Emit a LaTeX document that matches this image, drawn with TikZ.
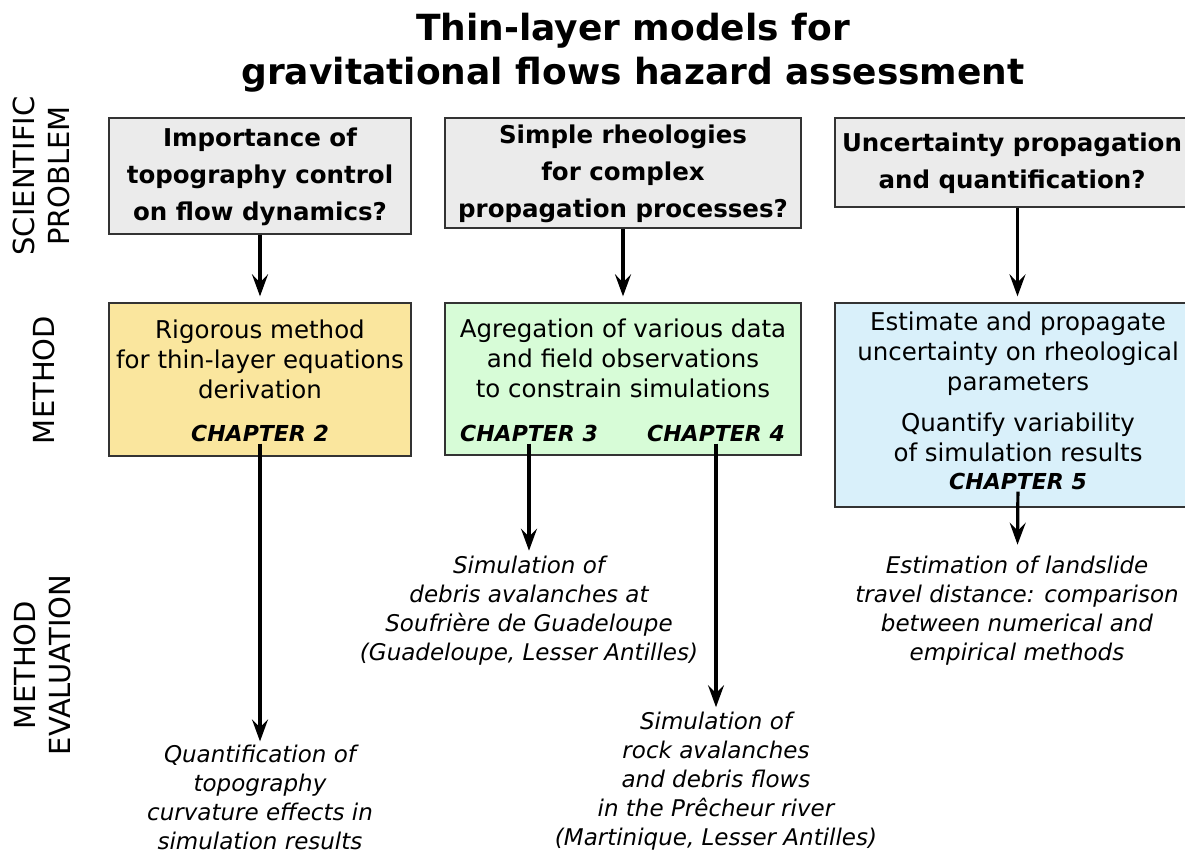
\documentclass[tikz,border=0pt]{standalone}
\usepackage{fontspec}
\setmainfont{DejaVu Sans}
\usetikzlibrary{arrows.meta}
\definecolor{probgray}{RGB}{235,235,235}
\definecolor{methyellow}{RGB}{250,230,158}
\definecolor{methgreen}{RGB}{215,252,215}
\definecolor{methblue}{RGB}{217,240,250}
\tikzset{
  box/.style={draw=black!80, line width=1.3pt, inner sep=0pt},
  probtext/.style={font=\fontsize{24.5}{37}\selectfont\bfseries, align=center, inner sep=0pt},
  bodytext/.style={font=\fontsize{24.5}{30}\selectfont, align=center, inner sep=0pt},
  chaptext/.style={font=\fontsize{22}{24}\selectfont\bfseries\itshape, inner sep=2pt},
  restext/.style={font=\fontsize{23}{29}\selectfont\itshape, align=center, inner sep=0pt},
  sidetext/.style={font=\fontsize{29}{35}\selectfont, align=center, rotate=90, inner sep=0pt},
  flow/.style={-{Stealth[length=22pt,width=16pt,inset=8pt]}, line width=3.2pt},
}
\begin{document}
\begin{tikzpicture}[x=1pt,y=-1pt]
  \useasboundingbox (0,0) rectangle (1185,850);
  \clip (0,0) rectangle (1185,850);
  % title
  \node[font=\fontsize{36}{44}\selectfont\bfseries, align=center] (title) at (633,53) {Thin-layer models for\\gravitational flows hazard assessment};
  % row labels
  \node[sidetext] (rowprob) at (41,176) {SCIENTIFIC\\PROBLEM};
  \node[sidetext] (rowmeth) at (44,380) {METHOD};
  \node[sidetext] (roweval) at (42,665) {METHOD\\EVALUATION};
  % scientific problems
  \node[box, fill=probgray, minimum width=302, minimum height=116] (prob1) at (260,176) {};
  \node[probtext] (prob1txt) at (260,177) {Importance of\\topography control\\on flow dynamics?};
  \node[box, fill=probgray, minimum width=356, minimum height=110] (prob2) at (623,173) {};
  \node[probtext] (prob2txt) at (623,174) {Simple rheologies\\for complex\\propagation processes?};
  \node[box, fill=probgray, minimum width=365, minimum height=89] (prob3) at (1017.5,162.5) {};
  \node[probtext] (prob3txt) at (1012,163.5) {Uncertainty propagation\\and quantification?};
  % methods
  \node[box, fill=methyellow, minimum width=302, minimum height=153] (meth1) at (260,379.5) {};
  \node[bodytext] (meth1txt) at (260,359) {Rigorous method\\for thin-layer equations\\derivation};
  \node[chaptext] (ch2) at (260,433) {CHAPTER 2};
  \node[box, fill=methgreen, minimum width=356, minimum height=152] (meth2) at (623,379) {};
  \node[bodytext] (meth2txt) at (623,358) {Agregation of various data\\and field observations\\to constrain simulations};
  \node[chaptext] (ch3) at (529,433) {CHAPTER 3};
  \node[chaptext] (ch4) at (716,433) {CHAPTER 4};
  \node[box, fill=methblue, minimum width=365, minimum height=204] (meth3) at (1017.5,405) {};
  \node[bodytext] (meth3txt) at (1018,354) {Estimate and propagate\\uncertainty on rheological\\parameters};
  \node[bodytext] (meth3txtb) at (1018,437) {Quantify variability\\of simulation results};
  \node[chaptext] (ch5) at (1018,481) {CHAPTER 5};
  % evaluations
  \node[restext] (res1) at (260,797) {Quantification of\\topography\\curvature effects in\\simulation results};
  \node[restext] (res2) at (529,610.5) {Simulation of\\debris avalanches at\\Soufrière de Guadeloupe\\(Guadeloupe, Lesser Antilles)};
  \node[restext] (res3) at (716,781.5) {Simulation of\\rock avalanches\\and debris flows\\in the Prêcheur river\\(Martinique, Lesser Antilles)};
  \node[restext] (res4) at (1017,610.5) {Estimation of landslide\\travel distance: comparison\\between numerical and\\empirical methods};
  % arrows
  \draw[flow, shorten >=6pt] (prob1) -- (meth1);
  \draw[flow, shorten >=6pt] (prob2) -- (meth2);
  \draw[flow, shorten >=6pt] (prob3) -- (meth3);
  \draw[flow, shorten >=3pt] (ch2) -- (res1);
  \draw[flow, shorten >=5pt] (ch3) -- (res2);
  \draw[flow, shorten >=5pt] (ch4) -- (res3);
  \draw[flow, shorten >=11pt] (ch5) -- (res4);
\end{tikzpicture}
\end{document}
